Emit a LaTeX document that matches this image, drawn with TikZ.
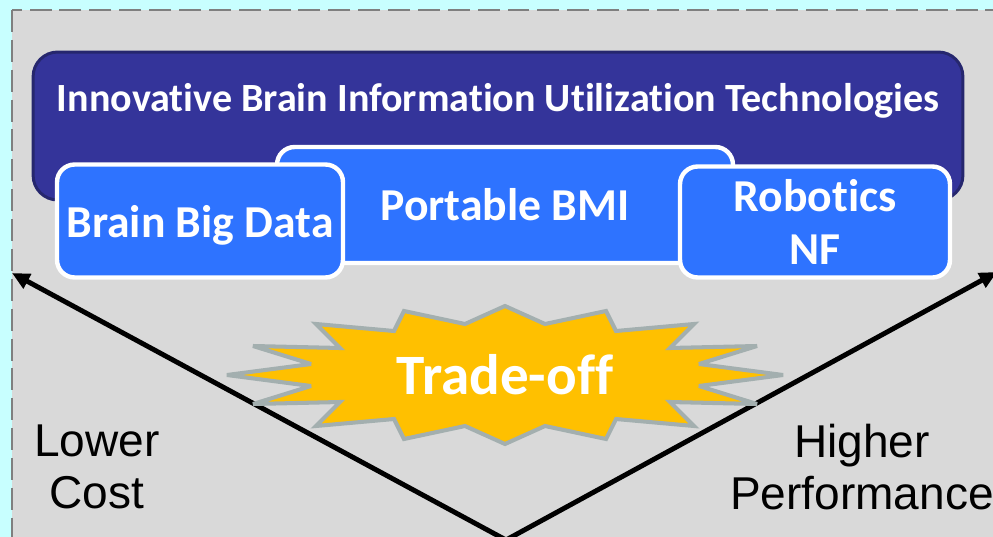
\documentclass[tikz,border=0pt]{standalone}
\usepackage{fontspec}
\setmainfont{Carlito}[Ligatures=NoCommon]
\newfontfamily\arialfont{Liberation Sans}
\usetikzlibrary{arrows.meta}

\definecolor{bgcyan}{HTML}{C8FFFF}
\definecolor{panelgray}{HTML}{D9D9D9}
\definecolor{dashgray}{HTML}{7F7F7F}
\definecolor{navyfill}{HTML}{34349A}
\definecolor{navyedge}{HTML}{26276E}
\definecolor{boxblue}{HTML}{2E73FF}
\definecolor{burstfill}{HTML}{FFC000}
\definecolor{burstedge}{HTML}{A3AFAF}

\tikzset{
	techbox/.style={draw=white, line width=2.5pt, fill=boxblue, rounded corners=10pt, text=white, font=\fontsize{26}{30}\selectfont\bfseries, align=center, inner sep=0pt},
	sidelabel/.style={font=\arialfont\fontsize{26.2}{30}\selectfont, align=center},
	axisarrow/.style={line width=2.8pt, -{Triangle[length=10pt,width=9pt]}},
}

\begin{document}
\begin{tikzpicture}[x=0.02cm, y=-0.02cm]
	\useasboundingbox (0,0) rectangle (993,537);
	\clip (0,0) rectangle (993,537);
	\fill[bgcyan] (0,0) rectangle (993,537);
	\draw[dashgray, line width=1.4pt, dash pattern=on 12.5pt off 4.5pt, fill=panelgray] (12,10) rectangle (1020,560);
	
	% top frame and the three technologies
	\node[draw=navyedge, line width=1.7pt, fill=navyfill, rounded corners=14pt, minimum width=18.6cm, minimum height=2.96cm] (techframe) at (498,126) {};
	\node[text=white, font=\fontsize{22.8}{26}\selectfont\bfseries] (title) at (498,101) {Innovative Brain Information Utilization Technologies};
	\node[techbox, minimum width=9.12cm, minimum height=2.32cm] (bmibox) at (505,205) {Portable BMI};
	\node[techbox, text depth=0pt, minimum width=5.72cm, minimum height=2.26cm] (databox) at (200,221) {Brain Big Data};
	\node[techbox, minimum width=5.4cm, minimum height=2.22cm] (robobox) at (815,222) {Robotics\\NF};
	
	% cost / performance axes
	\coordinate (apex) at (506,540);
	\coordinate (costend) at (12,273);
	\coordinate (perfend) at (997,272);
	\draw[axisarrow] (apex) -- (costend);
	\draw[axisarrow] (apex) -- (perfend);
	
	\begin{scope}[shift={(505,375)}]
	\draw[burstedge, line width=2.3pt, fill=burstfill, line join=miter, miter limit=3]
		(-278,0) -- (-194,-11) -- (-252,-29) -- (-165,-27) -- (-189,-51) -- (-111,-44) -- (-101,-64) -- (-40,-51) -- (0,-69)
		-- (40,-51) -- (101,-64) -- (111,-44) -- (189,-51) -- (165,-27) -- (252,-29) -- (194,-11) -- (278,0)
		-- (194,11) -- (252,29) -- (165,27) -- (189,51) -- (111,44) -- (101,64) -- (40,51) -- (0,69)
		-- (-40,51) -- (-101,64) -- (-111,44) -- (-189,51) -- (-165,27) -- (-252,29) -- (-194,11) -- cycle;
	\end{scope}
	\node[text=white, font=\fontsize{32.5}{36}\selectfont\bfseries] (tradeoff) at (505,375) {Trade-off};
	
	\node[sidelabel] (lowcost) at (97,467) {Lower\\Cost};
	\node[sidelabel] (highperf) at (862,467) {Higher\\Performance};
\end{tikzpicture}
\end{document}
